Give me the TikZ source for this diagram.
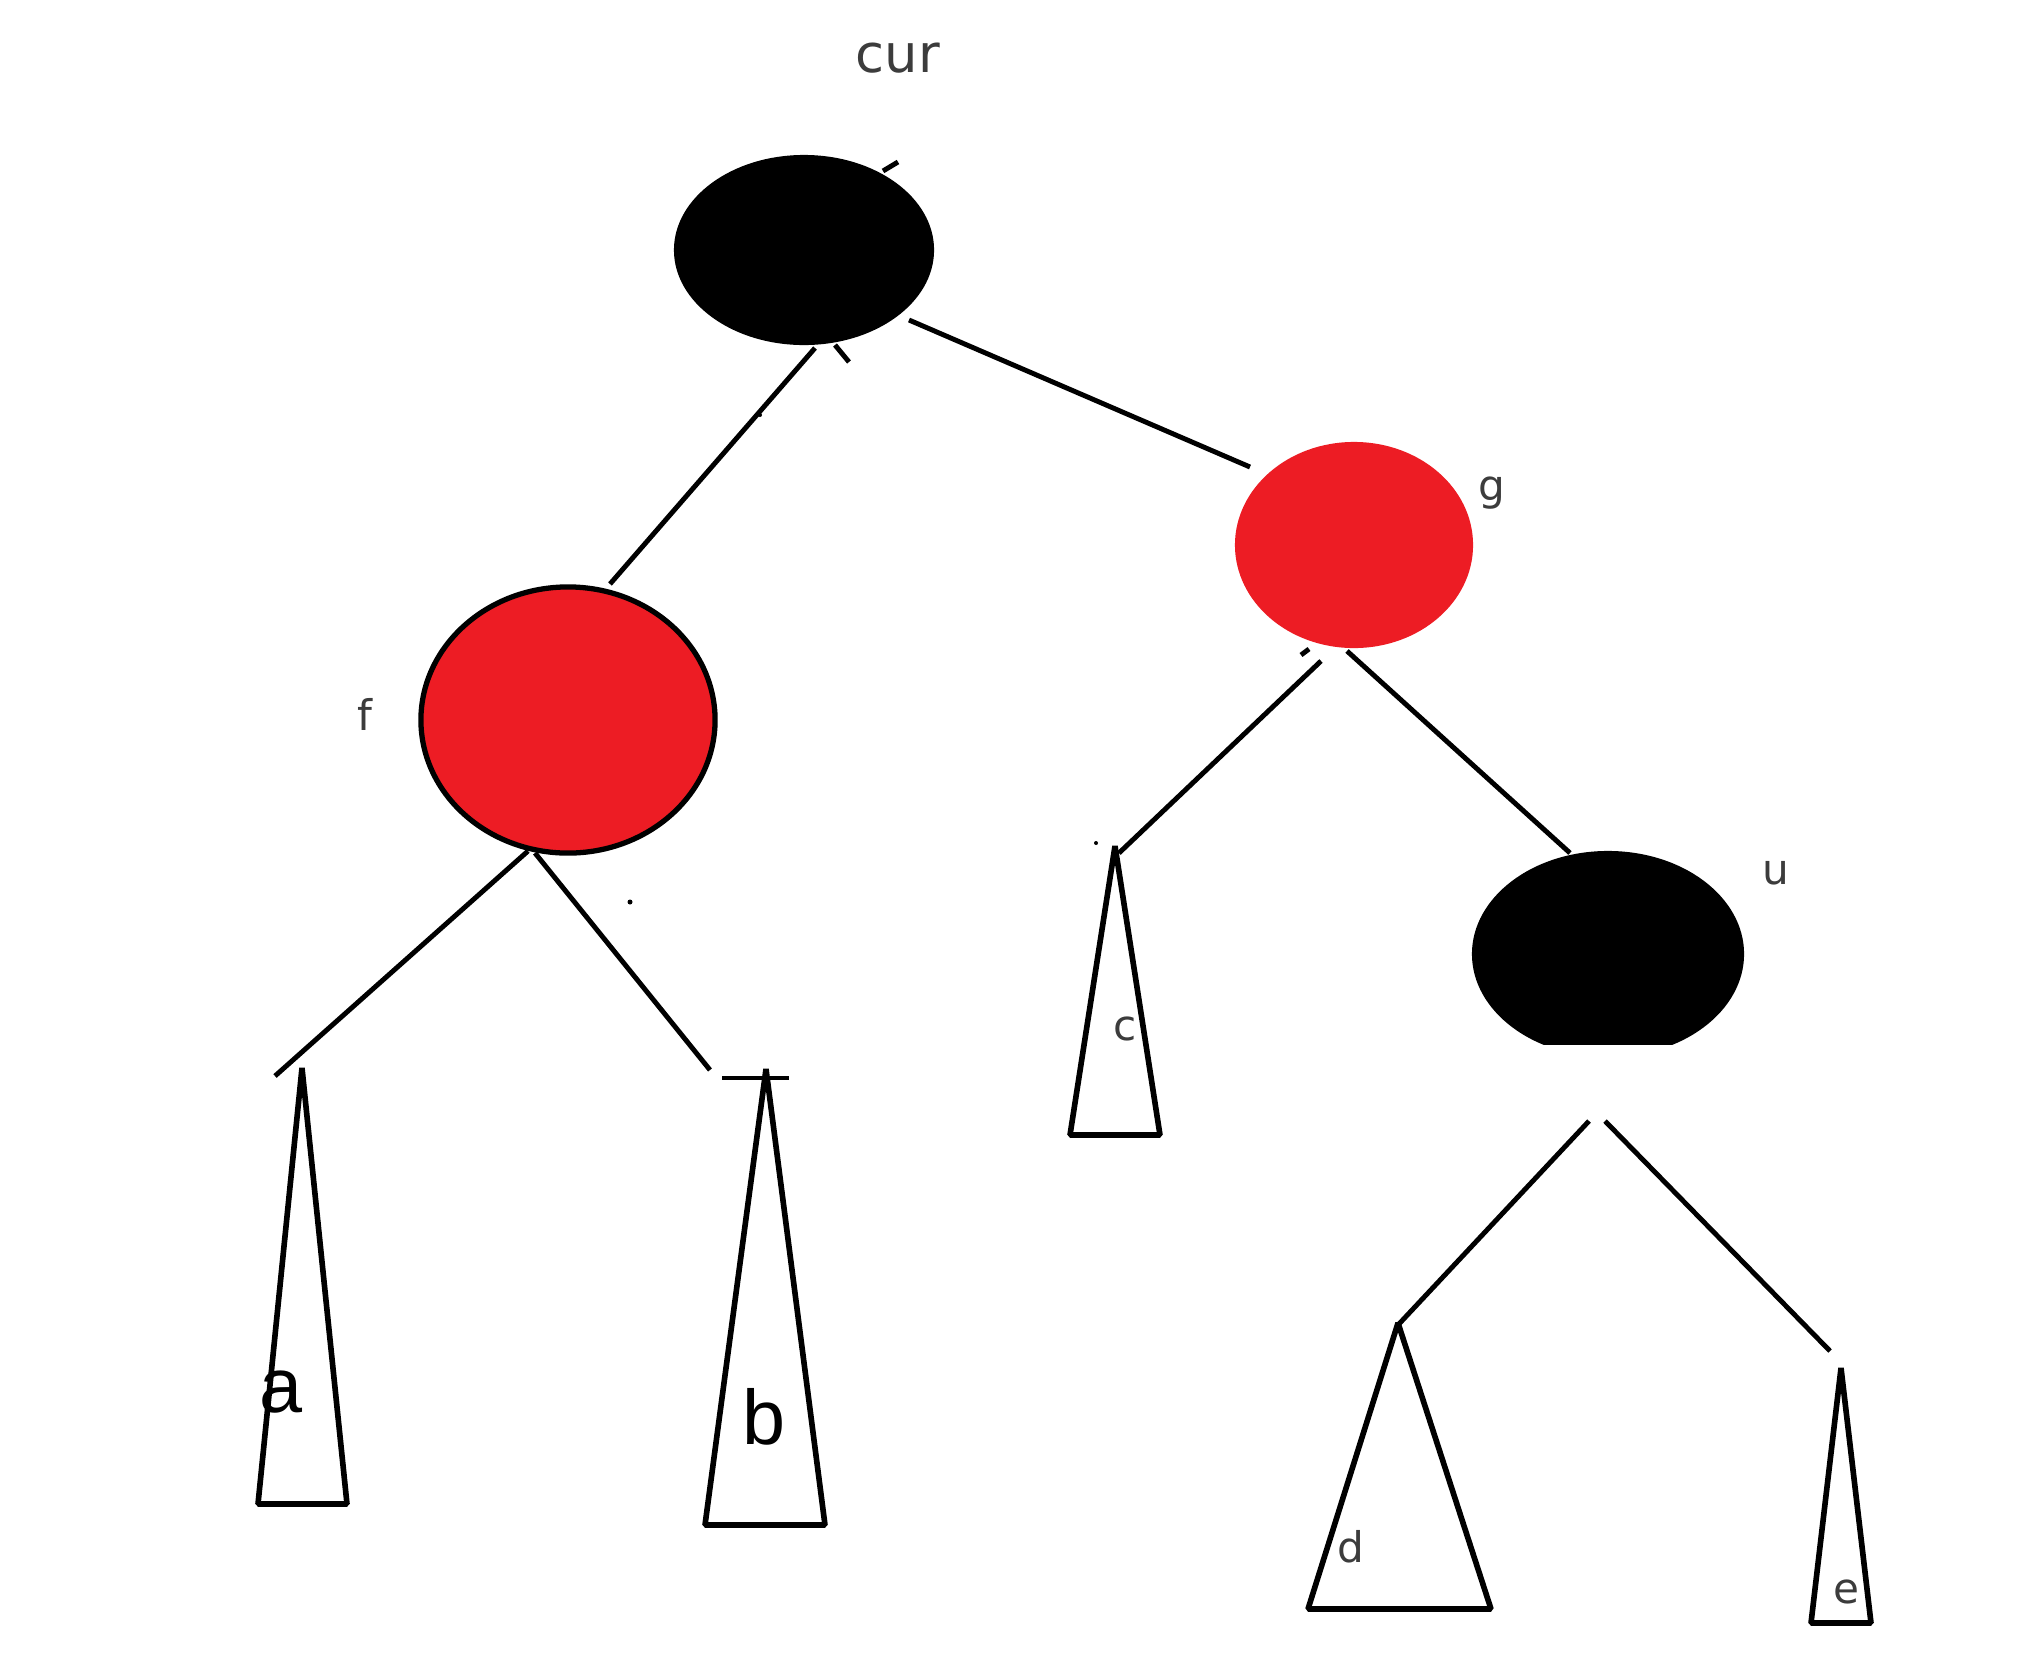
\documentclass[tikz,border=0pt]{standalone}
\usepackage{fontspec}
\setmainfont{DejaVu Sans}
\newfontfamily\bigfont{Liberation Sans}
\usetikzlibrary{shapes.geometric}
\definecolor{paintred}{RGB}{237,28,36}
\definecolor{labelgray}{RGB}{60,60,60}
\tikzset{
  edge/.style={line width=1.4pt, black},
  tri/.style={line width=1.6pt, black, line join=bevel},
  tick/.style={line width=1.4pt, black},
  lbl/.style={text=labelgray, font=\fontsize{12}{14}\selectfont, inner sep=0pt},
  biglbl/.style={text=black, font=\bigfont\fontsize{22}{26}\selectfont, inner sep=0pt},
}
\begin{document}
\begin{tikzpicture}[x=0.01cm,y=-0.01cm]
\useasboundingbox[fill=white] (0,0) rectangle (2021,1666);

% nodes
\node[ellipse, fill=black, minimum width=2.6cm, minimum height=1.9cm, inner sep=0pt] (root) at (804,250) {};
\node[ellipse, fill=paintred, draw=black, line width=1.5pt, minimum width=2.94cm, minimum height=2.66cm, inner sep=0pt] (f) at (568,720) {};
\node[ellipse, fill=paintred, minimum width=2.38cm, minimum height=2.06cm, inner sep=0pt] (g) at (1354,545) {};
\node[ellipse, minimum width=2.72cm, minimum height=2.06cm, inner sep=0pt] (u) at (1608,954) {};
\begin{scope}
  \clip (1400,800) rectangle (1800,1044);
  \fill[black] (u.center) ellipse [x radius=1.36cm, y radius=1.03cm];
\end{scope}

% labels
\node[lbl, font=\fontsize{15}{18}\selectfont] (curlbl) at (898,58) {cur};
\node[lbl, anchor=base] (glbl) at (1492,500) {g};
\node[lbl, anchor=base] (flbl) at (365,730) {f};
\node[lbl, anchor=base] (ulbl) at (1776,884) {u};

% triangles (subtrees)
\coordinate (aT) at (302,1068); \coordinate (aL) at (258,1504); \coordinate (aR) at (347,1504);
\coordinate (bT) at (766,1069); \coordinate (bL) at (705,1525); \coordinate (bR) at (825,1525);
\coordinate (cT) at (1115,846); \coordinate (cL) at (1070,1135); \coordinate (cR) at (1160,1135);
\coordinate (dT) at (1398,1323); \coordinate (dL) at (1308,1609); \coordinate (dR) at (1491,1609);
\coordinate (eT) at (1841,1368); \coordinate (eL) at (1811,1623); \coordinate (eR) at (1871,1623);
\draw[tri] (aT) -- (aR) -- (aL) -- cycle;
\draw[tri] (bT) -- (bR) -- (bL) -- cycle;
\draw[tri] (cT) -- (cR) -- (cL) -- cycle;
\draw[tri] (dT) -- (dR) -- (dL) -- cycle;
\draw[tri] (eT) -- (eR) -- (eL) -- cycle;

\node[biglbl, anchor=base] (alab) at (281,1412) {a};
\node[biglbl, anchor=base] (blab) at (764,1444) {b};
\node[lbl, anchor=base] (clab) at (1125,1040) {c};
\node[lbl, anchor=base] (dlab) at (1351,1562) {d};
\node[lbl, anchor=base] (elab) at (1846,1603) {e};

% edge end points
\coordinate (rf1) at (815,348);  \coordinate (rf2) at (610,584);
\coordinate (rg1) at (909,320);  \coordinate (rg2) at (1250,467);
\coordinate (fa1) at (528,851);  \coordinate (fa2) at (275,1076);
\coordinate (fb1) at (535,853);  \coordinate (fb2) at (710,1070);
\coordinate (gc1) at (1321,661); \coordinate (gc2) at (1119,853);
\coordinate (gu1) at (1347,651); \coordinate (gu2) at (1570,853);
\coordinate (ud1) at (1589,1121); \coordinate (ud2) at (1398,1325);
\coordinate (ue1) at (1605,1121); \coordinate (ue2) at (1830,1351);

\draw[edge] (rf1) -- (rf2);
\draw[edge] (rg1) -- (rg2);
\draw[edge] (fa1) -- (fa2);
\draw[edge] (fb1) -- (fb2);
\draw[edge] (gc1) -- (gc2);
\draw[edge] (gu1) -- (gu2);
\draw[edge] (ud1) -- (ud2);
\draw[edge] (ue1) -- (ue2);

% small ticks
\coordinate (t1a) at (883,171); \coordinate (t1b) at (898,162);
\coordinate (t2a) at (835,345); \coordinate (t2b) at (849,362);
\coordinate (t3a) at (722,1078); \coordinate (t3b) at (789,1078);
\coordinate (t4a) at (1301,655); \coordinate (t4b) at (1309,649);
\draw[tick] (t1a) -- (t1b);
\draw[tick] (t2a) -- (t2b);
\draw[tick] (t3a) -- (t3b);
\draw[tick] (t4a) -- (t4b);
\fill (760,415) circle [radius=0.02cm];
\fill (630,902) circle [radius=0.025cm];
\fill (1096,843) circle [radius=0.02cm];
\end{tikzpicture}
\end{document}
